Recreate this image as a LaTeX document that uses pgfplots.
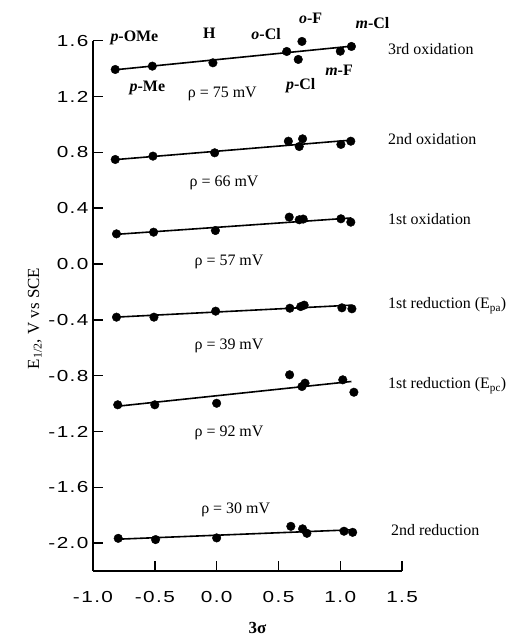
\documentclass[border=0pt]{standalone}
\usepackage{fontspec}
\setmainfont{Liberation Serif}
\setsansfont{Liberation Sans}
\newfontfamily\tickfont[FakeStretch=1.3, LetterSpace=9]{Liberation Sans}
\usepackage{pgfplots}
\pgfplotsset{compat=1.18}
\begin{document}
\begin{tikzpicture}
\begin{axis}[
  scale only axis, width=309bp, height=530bp,
  xmin=-1, xmax=1.5, ymin=-2.2, ymax=1.6,
  axis x line*=bottom, axis y line*=left,
  axis line style={line width=1.6bp, -},
  xtick={-1,-0.5,0,0.5,1,1.5},
  ytick={-2,-1.6,-1.2,-0.8,-0.4,0,0.4,0.8,1.2,1.6},
  tick align=inside, major tick length=10bp,
  tick style={line width=1.4bp, black},
  xticklabel style={font=\tickfont\fontsize{16}{16}\selectfont, yshift=-17bp},
  yticklabel style={font=\tickfont\fontsize{16}{16}\selectfont, xshift=-1bp},
  /pgf/number format/fixed, /pgf/number format/fixed zerofill,
  /pgf/number format/precision=1, /pgf/number format/assume math mode=true,
  clip=false,
  every axis plot/.append style={black},
]
% fit lines
\addplot[line width=1.6bp] coordinates {(-0.82,1.392) (1.09,1.561)};
\addplot[line width=1.6bp] coordinates {(-0.82,0.748) (1.09,0.888)};
\addplot[line width=1.6bp] coordinates {(-0.82,0.212) (1.09,0.330)};
\addplot[line width=1.6bp] coordinates {(-0.82,-0.381) (1.09,-0.295)};
\addplot[line width=1.6bp] coordinates {(-0.82,-1.021) (1.09,-0.842)};
\addplot[line width=1.6bp] coordinates {(-0.82,-1.973) (1.09,-1.905)};
% data
\addplot[only marks, mark=*, mark size=4.3bp] coordinates {
 (-0.82,1.394) (-0.52,1.418) (-0.03,1.442) (0.567,1.523) (0.69,1.595) (0.66,1.466) (1.0,1.525) (1.09,1.559)};
\addplot[only marks, mark=*, mark size=4.3bp] coordinates {
 (-0.82,0.749) (-0.515,0.773) (-0.016,0.797) (0.58,0.880) (0.695,0.897) (0.668,0.842) (1.005,0.857) (1.085,0.880)};
\addplot[only marks, mark=*, mark size=4.3bp] coordinates {
 (-0.81,0.216) (-0.51,0.228) (-0.01,0.240) (0.587,0.336) (0.668,0.317) (0.70,0.322) (1.005,0.324) (1.085,0.300)};
\addplot[only marks, mark=*, mark size=4.3bp] coordinates {
 (-0.81,-0.381) (-0.507,-0.381) (-0.008,-0.338) (0.592,-0.317) (0.68,-0.305) (0.708,-0.295) (1.013,-0.314) (1.094,-0.321)};
\addplot[only marks, mark=*, mark size=4.3bp] coordinates {
 (-0.80,-1.009) (-0.50,-1.009) (0,-0.998) (0.59,-0.794) (0.69,-0.878) (0.715,-0.854) (1.02,-0.830) (1.11,-0.919)};
\addplot[only marks, mark=*, mark size=4.3bp] coordinates {
 (-0.796,-1.966) (-0.494,-1.975) (0,-1.963) (0.60,-1.880) (0.695,-1.898) (0.73,-1.930) (1.03,-1.915) (1.10,-1.923)};
% substituent labels
\begin{scope}[every node/.style={font=\fontsize{16}{16}\selectfont\bfseries}]
\node at (axis cs:-0.665,1.617) {\textit{p}-OMe};
\node at (axis cs:-0.06,1.65) {H};
\node at (axis cs:0.40,1.65) {\textit{o}-Cl};
\node at (axis cs:0.76,1.757) {\textit{o}-F};
\node at (axis cs:1.26,1.73) {\textit{m}-Cl};
\node at (axis cs:-0.56,1.263) {\textit{p}-Me};
\node at (axis cs:0.68,1.28) {\textit{p}-Cl};
\node at (axis cs:0.99,1.387) {\textit{m}-F};
\end{scope}
% rho labels
\begin{scope}[every node/.style={font=\fontsize{16}{16}\selectfont}]
\node at (axis cs:0.046,1.22) {ρ = 75 mV};
\node at (axis cs:0.06,0.582) {ρ = 66 mV};
\node at (axis cs:0.10,0.013) {ρ = 57 mV};
\node at (axis cs:0.10,-0.584) {ρ = 39 mV};
\node at (axis cs:0.10,-1.213) {ρ = 92 mV};
\node at (axis cs:0.154,-1.762) {ρ = 30 mV};
\end{scope}
% series labels
\begin{scope}[every node/.style={font=\fontsize{16}{16}\selectfont, anchor=west, inner sep=0pt}]
\node at (axis cs:1.385,1.543) {3rd oxidation};
\node at (axis cs:1.385,0.897) {2nd oxidation};
\node at (axis cs:1.385,0.324) {1st oxidation};
\node at (axis cs:1.385,-0.297) {1st reduction (E\textsubscript{pa})};
\node at (axis cs:1.385,-0.871) {1st reduction (E\textsubscript{pc})};
\node at (axis cs:1.41,-1.91) {2nd reduction};
\end{scope}
% axis titles
\node[rotate=90, font=\fontsize{17}{17}\selectfont] at (axis cs:-1.47,-0.39) {E\textsubscript{1/2}, V vs SCE};
\node[font=\fontsize{17}{17}\selectfont\bfseries] at (axis cs:0.33,-2.606) {3σ};
\coordinate (bbsw) at (axis cs:-1.752,-2.666);
\coordinate (bbne) at (axis cs:2.406,1.892);
\end{axis}
\pgfresetboundingbox
\useasboundingbox (bbsw) rectangle (bbne);
\end{tikzpicture}
\end{document}
